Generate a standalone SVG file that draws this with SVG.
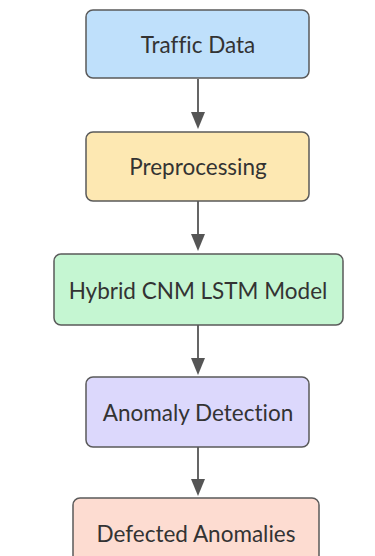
<svg xmlns="http://www.w3.org/2000/svg" width="375" height="556" viewBox="0 0 375 556">
<style>
.box{stroke:#5a5a5a;stroke-width:1.5}
.lbl{font-family:Lato,"Open Sans",sans-serif;font-size:22.5px;fill:#333;text-anchor:middle;dominant-baseline:central;font-variant-ligatures:none}
.edge{stroke:#555;stroke-width:1.8;fill:none}
.head{fill:#555}
</style>
<rect width="375" height="556" fill="#fff"/>
<g id="connectors">
<line class="edge" x1="198" y1="79" x2="198" y2="120"/>
<path class="head" d="M191,112 L205,112 L198,129 z"/>
<line class="edge" x1="198" y1="201" x2="198" y2="240"/>
<path class="head" d="M191,234 L205,234 L198,251 z"/>
<line class="edge" x1="198" y1="325" x2="198" y2="364"/>
<path class="head" d="M191,358 L205,358 L198,375 z"/>
<line class="edge" x1="198" y1="447" x2="198" y2="485"/>
<path class="head" d="M191,479 L205,479 L198,496 z"/>
</g>
<g id="traffic-data">
<rect class="box" x="86" y="10" width="223" height="68" rx="7" fill="#bfe0fb"/>
<text class="lbl" x="198" y="44">Traffic Data</text>
</g>
<g id="preprocessing">
<rect class="box" x="86" y="132" width="223" height="69" rx="7" fill="#fde8b2"/>
<text class="lbl" x="198" y="166">Preprocessing</text>
</g>
<g id="hybrid-model">
<rect class="box" x="54" y="254" width="289" height="71" rx="7" fill="#c5f6d2"/>
<text class="lbl" x="198" y="290">Hybrid CNM LSTM Model</text>
</g>
<g id="anomaly-detection">
<rect class="box" x="86" y="377" width="223" height="70" rx="7" fill="#dcd8fc"/>
<text class="lbl" x="198" y="412">Anomaly Detection</text>
</g>
<g id="detected-anomalies">
<rect class="box" x="73" y="498" width="246" height="80" rx="7" fill="#fddcd1"/>
<text class="lbl" x="196" y="533">Defected Anomalies</text>
</g>
</svg>
